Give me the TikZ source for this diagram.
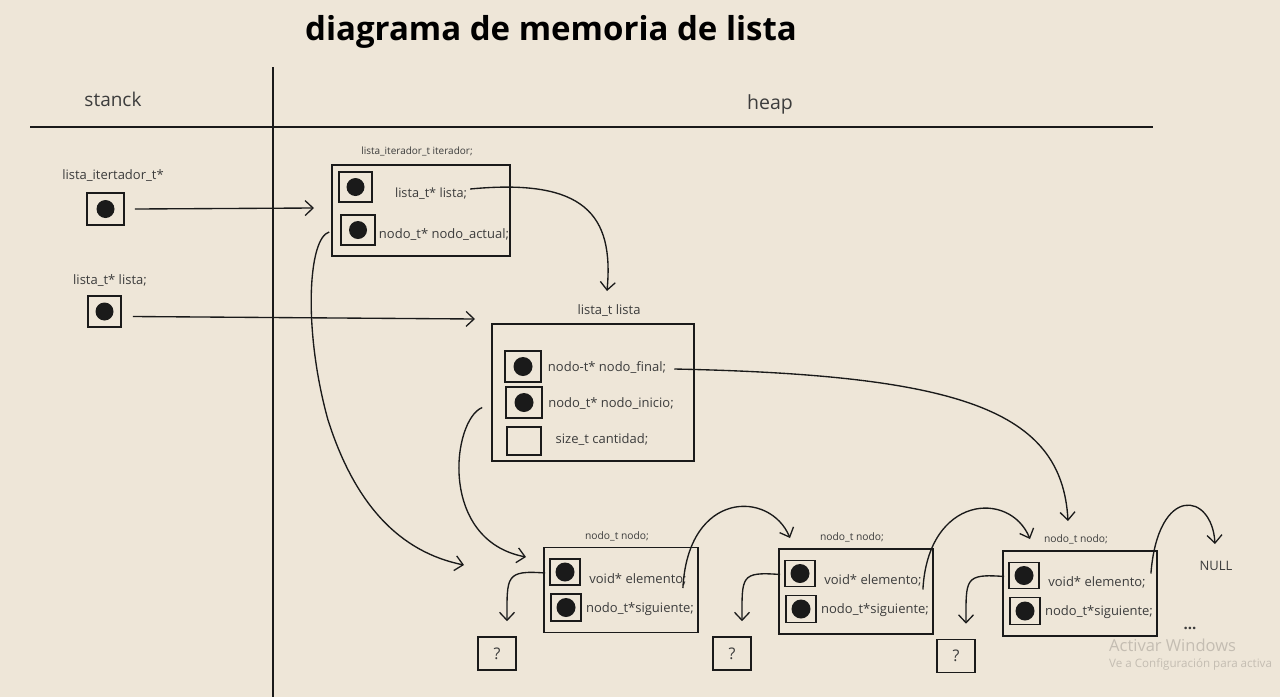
\documentclass[tikz,border=0pt]{standalone}
\usepackage{fontspec}
\setmainfont{Open Sans}
\usetikzlibrary{arrows.meta,calc}
\definecolor{paper}{HTML}{EEE6D8}
\definecolor{ink}{HTML}{1A1A1A}
\definecolor{wm}{HTML}{C4BDB2}
\begin{document}
\begin{tikzpicture}[x=1pt,y=-1pt,
  box/.style={draw=ink,line width=1.8pt,inner sep=0pt,fill=none},
  cell/.style={draw=ink,line width=1.6pt,inner sep=0pt},
  lbl/.style={inner sep=0pt,text=ink!85,font=\fontsize{13}{15}\selectfont},
  small/.style={inner sep=0pt,text=ink!85,font=\fontsize{10.3}{12}\selectfont},
  arr/.style={draw=ink,line width=1.35pt,-{Straight Barb[length=8pt,width=15pt,line width=1.3pt]}},
  qbox/.style={cell,minimum width=38pt,minimum height=33pt,font=\fontsize{16}{18}\selectfont,text=ink!85}]
\fill[paper] (0,0) rectangle (1280,697);
\useasboundingbox (0,0) rectangle (1280,697);
% title and frame
\node[inner sep=0pt,font=\fontsize{33}{36}\bfseries\selectfont] (title) at (551,32) {diagrama de memoria de lista};
\coordinate (vtop) at (273,67); \coordinate (vbot) at (273,697);
\coordinate (hl) at (30,127); \coordinate (hr) at (1153,127);
\draw[ink,line width=1.8pt] (vtop) -- (vbot);
\draw[ink,line width=1.8pt] (hl) -- (hr);
\node[inner sep=0pt,font=\fontsize{19}{21}\selectfont,text=ink!85] (stanck) at (113,99) {stanck};
\node[inner sep=0pt,font=\fontsize{19.5}{21}\selectfont,text=ink!85] (heap) at (770,104) {heap};
% stack
\node[small,font=\fontsize{13}{15}\selectfont] (s1lbl) at (113,176) {lista\_itertador\_t*};
\node[cell,minimum width=37pt,minimum height=32pt] (s1) at (105.5,209) {};
\fill[ink] (s1.center) circle (9);
\node[small,font=\fontsize{13}{15}\selectfont] (s2lbl) at (110,281) {lista\_t* lista;};
\node[cell,minimum width=33pt,minimum height=31pt] (s2) at (104.5,311.5) {};
\fill[ink] (s2.center) circle (9);
% iterator
\node[small,font=\fontsize{10}{12}\selectfont] (itlbl) at (417,151) {lista\_iterador\_t iterador;};
\node[box,minimum width=178pt,minimum height=91pt] (iter) at (421,210.5) {};
\node[cell,minimum width=33pt,minimum height=30pt] (ib1) at (355.5,187) {};
\fill[ink] (ib1.center) circle (9);
\node[cell,minimum width=34pt,minimum height=30pt] (ib2) at (358,230) {};
\fill[ink] (ib2.center) circle (9);
\node[lbl,font=\fontsize{12.7}{14}\selectfont] (tilista) at (431,194) {lista\_t* lista;};
\node[lbl] (tiact) at (444,235) {nodo\_t* nodo\_actual;};
% lista_t
\node[lbl] (lslbl) at (609,311) {lista\_t lista};
\node[box,minimum width=202pt,minimum height=137pt] (lista) at (593,392.5) {};
\node[cell,minimum width=36pt,minimum height=31pt] (lb1) at (523,366.5) {};
\fill[ink] (lb1.center) circle (9.5);
\node[cell,minimum width=36pt,minimum height=31pt] (lb2) at (524,402.5) {};
\fill[ink] (lb2.center) circle (9.5);
\node[cell,minimum width=34pt,minimum height=28pt] (lb3) at (524,441) {};
\node[lbl] (tfinal) at (607,368) {nodo-t* nodo\_final;};
\node[lbl] (tinicio) at (611,404) {nodo\_t* nodo\_inicio;};
\node[lbl] (tcant) at (602,440) {size\_t cantidad;};
% nodes
\foreach \n/\cx/\cy in {1/621/590,2/856/591.5,3/1080/593.5}{
  \node[small] (nl\n) at (\cx-4,\cy-54) {nodo\_t nodo;};
  \node[box,minimum width=154pt,minimum height=85pt] (node\n) at (\cx,\cy) {};
  \node[cell,minimum width=30pt,minimum height=26pt] (na\n) at (\cx-56,\cy-18) {};
  \fill[ink] (na\n.center) circle (9.5);
  \node[cell,minimum width=30pt,minimum height=27pt] (nb\n) at (\cx-55,\cy+17.5) {};
  \fill[ink] (nb\n.center) circle (9.5);
  \node[lbl] (te\n) at (\cx+17,\cy-11) {void* elemento;};
  \node[lbl] (ts\n) at (\cx+19,\cy+19) {nodo\_t*siguiente;};
}
\node[qbox] (q1) at (497,653.5) {?};
\node[qbox] (q2) at (732,653.5) {?};
\node[qbox] (q3) at (956,656) {?};
\node[lbl] (null) at (1216,566) {NULL};
\node[lbl,font=\fontsize{15}{16}\bfseries\selectfont] (dots) at (1190,628) {...};
% connectors
\coordinate (a1) at (314,208);
\draw[arr] ($(s1.east)+(10,0)$) -- (a1);
\coordinate (a2) at (475,319);
\draw[arr] ($(s2.east)+(11,5)$) -- (a2);
\coordinate (a3) at (607,291);
\draw[arr] ($(tilista.east)+(3,-5)$) .. controls (585,178) and (614,215) .. (a3);
\coordinate (a4) at (464,565);
\draw[arr] ($(ib2.west)+(-11,2)$) .. controls (308,238) and (303,330) .. (328,420) .. controls (355,505) and (400,552) .. (a4);
\coordinate (a5) at (1068,521);
\draw[arr] ($(tfinal.east)+(8,1)$) .. controls (960,375) and (1062,410) .. (a5);
\coordinate (a6) at (526,557);
\draw[arr] ($(lb2.west)+(-23,5)$) .. controls (452,420) and (438,540) .. (a6);
\foreach \i/\q in {1/q1,2/q2,3/q3}{
  \draw[arr] ($(na\i.west)+(-4,1)$) .. controls ($(na\i.west)+(-44,-2)$) and ($(\q.north)+(10,-60)$) .. ($(\q.north)+(10,-15)$);
}
\coordinate (a7) at (790,538);
\draw[arr] ($(node1.east)+(-16,-2)$) .. controls (688,490) and (770,490) .. (a7);
\coordinate (a8) at (1030,539);
\draw[arr] ($(node2.east)+(-11,-2)$) .. controls (928,495) and (1010,490) .. (a8);
\coordinate (a9) at (1215,544);
\draw[arr] ($(node3.east)+(-7,-20)$) .. controls (1158,484) and (1212,492) .. (a9);
% watermark
\node[inner sep=0pt,anchor=west,text=wm,font=\fontsize{16.5}{18}\selectfont] (wm1) at (1109,645) {Activar Windows};
\node[inner sep=0pt,anchor=west,text=wm,font=\fontsize{11.6}{13}\selectfont] (wm2) at (1109,664) {Ve a Configuración para activa};
\end{tikzpicture}
\end{document}
